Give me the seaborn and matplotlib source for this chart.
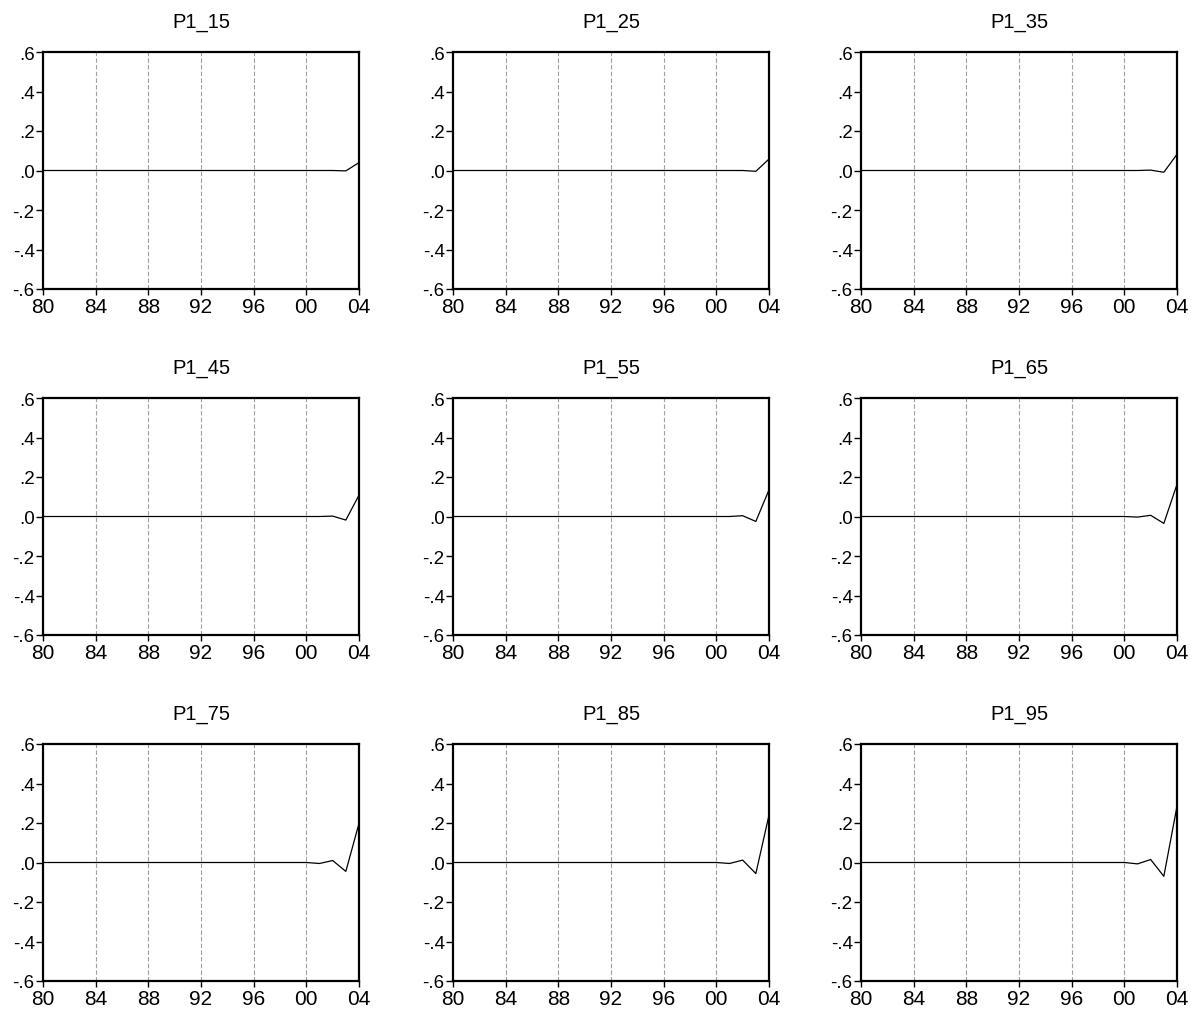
import numpy as np
import pandas as pd
import matplotlib
matplotlib.use("Agg")
import matplotlib.pyplot as plt
import seaborn as sns

years = list(range(1980, 2005))
titles = ["P1_15", "P1_25", "P1_35", "P1_45", "P1_55", "P1_65", "P1_75", "P1_85", "P1_95"]

# tail values for 2001, 2002, 2003, 2004 (earlier years are zero)
tail_p1_15 = [0.0, 0.0, -0.002, 0.040]
tail_p1_25 = [0.0, 0.0, -0.004, 0.058]
tail_p1_35 = [0.0, 0.002, -0.009, 0.082]
tail_p1_45 = [0.0, 0.002, -0.018, 0.108]
tail_p1_55 = [0.0, 0.004, -0.025, 0.135]
tail_p1_65 = [-0.003, 0.006, -0.035, 0.163]
tail_p1_75 = [-0.005, 0.010, -0.045, 0.198]
tail_p1_85 = [-0.005, 0.012, -0.056, 0.240]
tail_p1_95 = [-0.007, 0.015, -0.070, 0.285]
tails = [tail_p1_15, tail_p1_25, tail_p1_35, tail_p1_45, tail_p1_55,
         tail_p1_65, tail_p1_75, tail_p1_85, tail_p1_95]

x_ticks = [1980, 1984, 1988, 1992, 1996, 2000, 2004]
x_ticklabels = ["80", "84", "88", "92", "96", "00", "04"]
y_ticks = [-0.6, -0.4, -0.2, 0.0, 0.2, 0.4, 0.6]
y_ticklabels = ["-.6", "-.4", "-.2", ".0", ".2", ".4", ".6"]

rows = []
for t, tail in zip(titles, tails):
    vals = [0.0] * (len(years) - 4) + list(tail)
    for y, v in zip(years, vals):
        rows.append({"series": t, "year": y, "value": v})
df = pd.DataFrame(rows)

sns.set_style("white")
plt.rcParams['font.family'] = ['Liberation Sans', 'DejaVu Sans']

fig = plt.figure(figsize=(11.91, 10.12), dpi=100)
lefts = [43 / 1191, 453 / 1191, 861 / 1191]
width = 316 / 1191
bottoms = [1 - 290 / 1012, 1 - 636 / 1012, 1 - 982 / 1012]
height = 237 / 1012

for i, t in enumerate(titles):
    r, c = divmod(i, 3)
    ax = fig.add_axes([lefts[c], bottoms[r], width, height])
    sub = df[df["series"] == t]
    sns.lineplot(data=sub, x="year", y="value", ax=ax, color="black", linewidth=0.9)
    ax.set_xlim(1980, 2004)
    ax.set_ylim(-0.6, 0.6)
    ax.set_xticks(x_ticks)
    ax.set_xticklabels(x_ticklabels)
    ax.set_yticks(y_ticks)
    ax.set_yticklabels(y_ticklabels)
    ax.set_xlabel("")
    ax.set_ylabel("")
    for xv in x_ticks[1:-1]:
        ax.axvline(xv, color="#a0a0a0", linestyle=(0, (4, 2)), linewidth=0.8, zorder=0)
    for s in ax.spines.values():
        s.set_visible(True)
        s.set_linewidth(1.6)
        s.set_color("black")
    ax.tick_params(axis="x", which="major", direction="out", length=4, width=1,
                   labelsize=15, pad=2, bottom=True, colors="black")
    ax.tick_params(axis="y", which="major", direction="out", length=5, width=1,
                   labelsize=13.5, pad=1, left=True, colors="black")
    ax.set_title(t, fontsize=14.5, pad=18, color="black")

fig.savefig("out.png", dpi=100)
